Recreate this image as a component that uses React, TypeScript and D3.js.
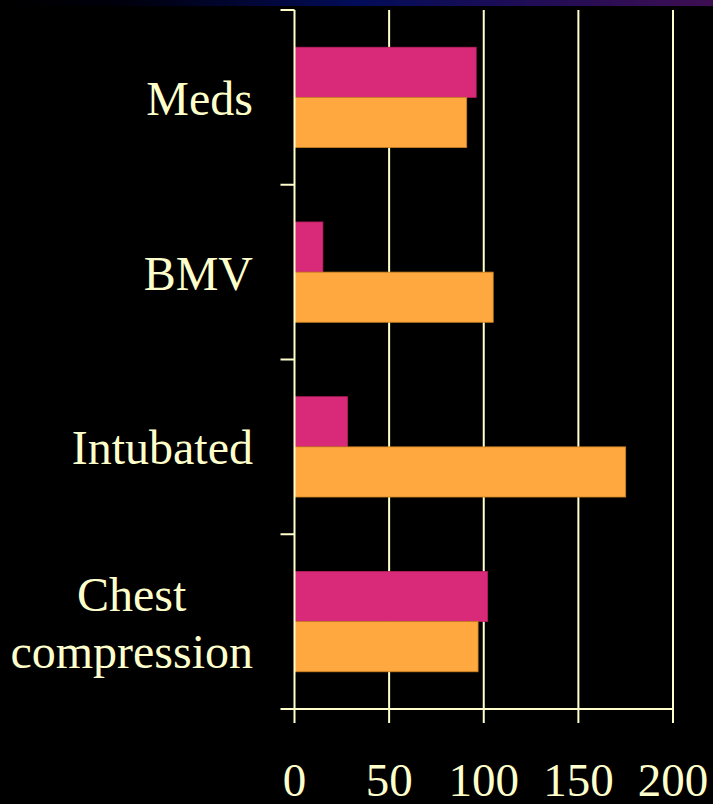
import React, { useEffect, useRef } from "react";
import * as d3 from "d3";

const categories = ["Meds", "BMV", "Intubated", "Chest\ncompression"];
const seriesNames = ["Series A", "Series B"];
const seriesA = [96, 15, 28, 102];
const seriesB = [91, 105, 175, 97];
const xTicks = [0, 50, 100, 150, 200];

const W = 713;
const H = 804;
const COLORS = ["#d92a7a", "#ffa840"];
const STROKES = ["#b8205f", "#c8801f"];
const FG = "#ffffcc";

export default function App() {
  const ref = useRef<SVGSVGElement | null>(null);

  useEffect(() => {
    const svg = d3.select(ref.current);
    svg.selectAll("*").remove();

    const left = 294.5;
    const right = 673;
    const top = 10;
    const bottom = 709;

    const x = d3.scaleLinear().domain([0, 200]).range([left, right]);
    const y = d3
      .scaleBand<string>()
      .domain(categories)
      .range([top, bottom])
      .paddingInner(0.426)
      .paddingOuter(0.213);
    const sub = d3
      .scaleBand<string>()
      .domain(seriesNames)
      .range([0, y.bandwidth()]);

    const defs = svg.append("defs");
    const grad = defs
      .append("linearGradient")
      .attr("id", "topband")
      .attr("x1", "0")
      .attr("x2", "1")
      .attr("y1", "0")
      .attr("y2", "0");
    grad.append("stop").attr("offset", "0").attr("stop-color", "#000000");
    grad.append("stop").attr("offset", "0.18").attr("stop-color", "#00000e");
    grad.append("stop").attr("offset", "0.5").attr("stop-color", "#020c58");
    grad.append("stop").attr("offset", "1").attr("stop-color", "#3e0e52");

    svg.append("rect").attr("width", W).attr("height", H).attr("fill", "#000");
    svg
      .append("rect")
      .attr("x", 0)
      .attr("y", 0)
      .attr("width", W)
      .attr("height", 6)
      .attr("fill", "url(#topband)");

    // gridlines
    svg
      .append("g")
      .selectAll("line")
      .data(xTicks.filter((t) => t > 0))
      .join("line")
      .attr("x1", (d) => x(d))
      .attr("x2", (d) => x(d))
      .attr("y1", top)
      .attr("y2", bottom)
      .attr("stroke", FG)
      .attr("stroke-width", 2);

    // bars
    const rows = categories.map((c, i) => ({ c, vals: [seriesA[i], seriesB[i]] }));
    const g = svg.append("g");
    rows.forEach((r) => {
      r.vals.forEach((v, si) => {
        g.append("rect")
          .attr("x", x(0))
          .attr("y", (y(r.c) as number) + (sub(seriesNames[si]) as number))
          .attr("width", x(v) - x(0))
          .attr("height", sub.bandwidth())
          .attr("fill", COLORS[si])
          .attr("stroke", STROKES[si])
          .attr("stroke-width", 0.8);
      });
    });

    // y axis line
    svg
      .append("line")
      .attr("x1", left)
      .attr("x2", left)
      .attr("y1", top)
      .attr("y2", bottom)
      .attr("stroke", FG)
      .attr("stroke-width", 2);
    // category ticks
    const bounds = d3.range(categories.length + 1).map((i) => top + i * y.step());
    svg
      .append("g")
      .selectAll("line")
      .data(bounds)
      .join("line")
      .attr("x1", left - 14)
      .attr("x2", left)
      .attr("y1", (d) => d)
      .attr("y2", (d) => d)
      .attr("stroke", FG)
      .attr("stroke-width", 2);

    // x axis
    svg
      .append("line")
      .attr("x1", left)
      .attr("x2", right)
      .attr("y1", bottom)
      .attr("y2", bottom)
      .attr("stroke", FG)
      .attr("stroke-width", 2);
    svg
      .append("g")
      .selectAll("line")
      .data(xTicks)
      .join("line")
      .attr("x1", (d) => x(d))
      .attr("x2", (d) => x(d))
      .attr("y1", bottom)
      .attr("y2", bottom + 14)
      .attr("stroke", FG)
      .attr("stroke-width", 2);
    svg
      .append("g")
      .selectAll("text")
      .data(xTicks)
      .join("text")
      .attr("x", (d) => x(d))
      .attr("y", 796)
      .attr("text-anchor", "middle")
      .attr("font-family", "'Liberation Serif', 'Times New Roman', serif")
      .attr("font-size", 47)
      .attr("fill", FG)
      .text((d) => String(d));

    // category labels
    const labelRight = 253;
    const lineH = 57;
    categories.forEach((c) => {
      const lines = c.split("\n");
      const center = (y(c) as number) + y.bandwidth() / 2;
      const t = svg
        .append("text")
        .attr("font-family", "'Liberation Serif', 'Times New Roman', serif")
        .attr("font-size", 48)
        .attr("fill", FG)
        .attr("text-anchor", "middle");
      const firstBase = center + 17.5 - ((lines.length - 1) * lineH) / 2;
      const spans = lines.map((ln, i) =>
        t.append("tspan").attr("y", firstBase + i * lineH).text(ln)
      );
      let maxW = 0;
      spans.forEach((s) => {
        const n = s.node() as SVGTSpanElement;
        maxW = Math.max(maxW, n.getComputedTextLength());
      });
      spans.forEach((s) => s.attr("x", labelRight - maxW / 2));
    });
  }, []);

  return (
    <svg
      ref={ref}
      width={W}
      height={H}
      style={{ position: "absolute", left: 0, top: 0, display: "block" }}
    />
  );
}
